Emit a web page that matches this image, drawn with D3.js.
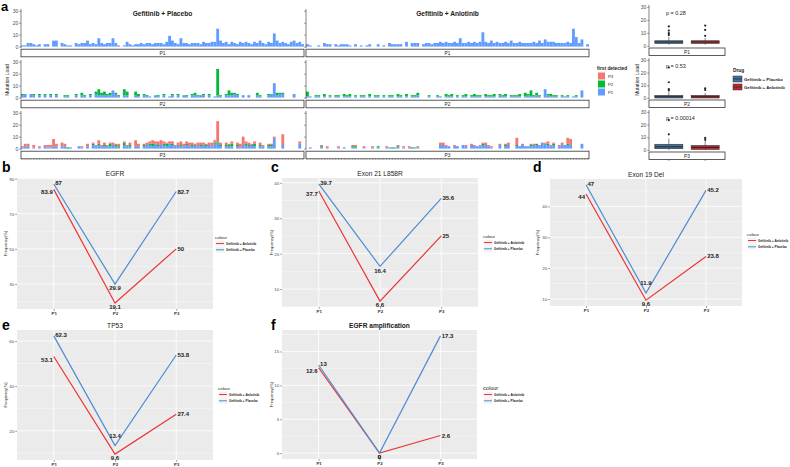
<!DOCTYPE html>
<html><head><meta charset="utf-8">
<script src="https://cdn.jsdelivr.net/npm/d3@7"></script>
<style>body{margin:0;background:#fff;}svg{display:block;font-family:"Liberation Sans",Arial,sans-serif;}</style>
</head><body><svg id="c" width="790" height="467"></svg>
<script>
// ---------------- DATA ----------------
// Panel a: mutation load per sample, split by the time point at which the mutation was first detected
const plP1_P1 = [1,1,3,3,2,1,2,0,2,2, 0,5,5,0,3,2,1,1,0,3, 2,3,3,5,2,3,2,7,3,2, 3,3,7,3,1,0,1,4,2,1, 2,2,3,2,3,3,2,3,3,3, 2,4,9,5,3,2,7,3,3,2, 3,3,3,2,4,3,3,4,4,15, 5,3,4,2,4,3,2,4,3,4, 3,2,4,3,5,3,2,4,3,11, 5,3,4,3,2,4,5,3,4,2];
const plP2_P1 = [2,3,0,3,2,0,2,0,2,0, 2,0,2,0,0,1,1,0,0,2, 0,2,1,0,2,0,3,2,2,2, 2,2,6,3,1,0,2,2,0,0, 2,1,0,2,1,1,0,2,1,0, 2,0,1,2,0,2,0,2,1,0, 2,2,1,2,2,0,2,0,1,2, 1,0,2,2,2,3,2,0,2,0, 2,0,0,2,1,0,0,2,3,12, 2,3,3,0,0,0,3,0,0,0];
const plP2_P2 = [1,0,0,0,1,0,1,0,1,0, 1,0,1,0,0,1,1,0,0,1, 0,2,1,0,1,0,2,5,2,3, 1,2,0,1,1,0,5,3,0,0, 3,2,0,1,1,0,0,0,1,0, 1,0,0,1,0,1,0,0,1,0, 1,2,1,0,1,0,1,0,0,22, 1,0,1,4,2,1,1,0,0,0, 0,0,0,2,1,0,0,1,0,0, 2,1,1,0,0,0,0,0,0,0];
const plP3_P1 = [1,2,2,0,1,0,1,0,2,1, 1,2,2,0,2,2,0,1,0,0, 2,1,0,2,0,3,2,3,2,2, 2,2,3,2,1,0,3,2,2,0, 2,2,0,2,3,3,2,4,2,3, 3,2,4,3,2,3,2,2,3,2, 2,3,2,2,3,2,3,2,4,5, 2,0,2,2,2,0,2,1,3,3, 2,3,2,0,2,2,0,2,2,8, 0,0,3,0,0,0,0,0,4,0];
const plP3_P2 = [0,0,0,0,0,0,0,0,0,0, 0,0,0,0,0,0,1,0,0,0, 0,0,0,0,0,1,0,1,0,1, 0,2,0,1,1,0,2,0,1,0, 0,0,0,1,0,1,2,0,1,0, 1,2,0,1,0,0,1,0,1,0, 1,0,0,1,0,1,0,0,1,1, 1,0,1,1,2,0,1,0,0,1, 1,0,2,0,1,0,0,1,1,0, 0,0,0,0,0,0,0,0,0,0];
const plP3_P3 = [1,2,2,0,2,0,1,0,1,2, 2,6,2,0,3,2,0,0,0,0, 0,1,0,2,0,1,1,3,1,2, 1,1,2,1,2,0,1,1,2,0, 5,2,0,1,2,2,3,2,3,4, 2,1,2,2,1,2,3,2,2,3, 2,1,3,2,2,1,2,3,2,17, 2,0,2,1,2,0,2,3,7,2, 2,1,2,0,2,1,0,1,1,2, 0,0,9,0,0,0,0,0,2,0];

const anP1_P1 = [2,1,0,0,1,0,3,2,2,0, 2,1,2,2,2,1,0,2,0,1, 0,1,2,0,0,2,0,1,0,3, 2,2,2,2,0,4,0,3,3,3, 0,2,3,3,2,3,3,4,3,4, 3,3,4,3,7,3,3,4,3,4, 3,4,12,4,3,5,3,4,3,3, 4,3,5,3,3,4,3,3,3,3, 4,3,5,3,6,4,4,4,3,3, 3,3,4,3,15,8,3,6,0,2];
const anP2_P1 = [1,1,0,1,1,0,1,0,1,0, 1,1,0,1,1,1,0,1,0,1, 1,0,1,0,1,1,0,1,0,1, 1,0,1,1,0,1,0,1,1,2, 0,0,0,1,0,0,1,1,0,1, 1,1,0,1,0,1,1,0,1,1, 1,1,0,1,1,1,1,0,2,1, 1,0,1,1,1,1,0,1,2,1, 1,2,1,0,7,2,1,1,1,0, 1,1,1,0,1,1,0,6,0,0];
const anP2_P2 = [4,0,0,1,1,0,2,0,1,0, 1,1,0,2,1,2,0,1,0,1, 1,0,2,0,1,1,0,1,0,1, 1,0,2,1,0,2,0,1,1,2, 0,0,0,1,0,0,1,0,0,2, 1,2,0,1,0,1,2,0,1,2, 1,1,0,2,1,1,2,0,1,1, 2,0,1,1,1,2,0,3,1,5, 1,2,1,0,0,1,2,1,1,0, 1,0,1,0,0,1,0,0,0,0];
const anP3_P1 = [0,1,0,0,0,1,0,1,0,0, 0,1,0,1,0,0,1,1,0,0, 1,0,0,1,0,1,0,0,1,1, 0,1,1,0,1,0,1,0,1,1, 0,0,0,0,0,0,0,3,3,2, 2,0,2,2,0,3,2,0,3,2, 2,2,3,3,2,1,0,0,3,0, 2,3,0,0,2,2,3,2,2,2, 3,3,2,5,4,3,2,3,0,2, 3,3,3,3,0,0,0,4,0,0];
const anP3_P2 = [0,0,0,0,0,1,0,0,0,0, 0,0,0,0,0,0,1,1,0,0, 0,0,0,0,0,1,0,0,0,0, 1,0,1,0,0,0,0,1,0,0, 0,0,0,0,0,0,0,0,0,0, 0,0,0,0,0,0,0,0,0,0, 0,0,1,0,0,0,0,0,0,0, 1,0,0,0,1,0,0,0,0,1, 0,1,0,0,0,1,0,1,0,0, 0,0,1,0,0,0,0,0,0,0];
const anP3_P3 = [0,0,0,0,0,1,0,1,0,0, 0,1,0,0,0,0,1,1,0,0, 1,0,0,1,0,0,0,0,1,0, 0,0,1,0,1,0,1,0,0,1, 0,0,0,0,0,0,0,2,2,1, 0,0,1,0,0,0,1,0,1,1, 0,1,1,2,1,1,0,0,1,0, 1,2,0,0,6,0,1,0,0,1, 1,0,1,0,1,2,1,1,0,1, 2,0,5,5,0,0,0,0,0,0];

const drugs = ["Gefitinib + Placebo", "Gefitinib + Anlotinib"];
const timepoints = ["P1", "P2", "P3"];
const barTicks = [0, 10, 20, 30];

// boxplot summaries, order: P1-placebo, P1-anlotinib, P2-placebo, P2-anlotinib, P3-placebo, P3-anlotinib
const boxLow = [1, 1, 0, 0, 0, 0];
const boxQ1 = [2, 2, 0, 0, 1, 0.5];
const boxMed = [3, 3, 1, 1, 2.5, 2];
const boxQ3 = [4, 4, 2, 2, 4.5, 3.5];
const boxHigh = [7, 6, 5, 4, 9, 7];
const boxOutliers = [[8.5, 9.8, 11.8, 15], [7.8, 12.3, 15.7], [6, 7, 12.4, 24], [6.3, 7.5], [12.3, 23.6], [8, 9.5]];
const pValues = ["p = 0.28", "p = 0.53", "p = 0.00014"];

// Panels b-f
const lineGenes = ["EGFR", "Exon 21 L858R", "Exon 19 Del", "TP53", "EGFR amplification"];
const anlotinibFreq = [[83.9, 19.1, 50], [37.7, 6.6, 25], [44, 9.6, 23.8], [53.1, 9.6, 27.4], [12.6, 0, 2.6]];
const placeboFreq = [[87, 29.9, 82.7], [39.7, 16.4, 35.6], [47, 11.9, 45.2], [62.3, 13.4, 53.8], [13, 0, 17.3]];
const freqTicks = [[30, 50, 70, 90], [10, 20, 30, 40], [10, 20, 30, 40], [20, 40, 60], [0, 5, 10, 15]];
const panelLetters = ["b", "c", "d", "e", "f"];
const lineSeriesNames = ["Gefitinib + Anlotinib", "Gefitinib + Placebo"];

// ---------------- STYLE / LAYOUT ----------------
const svg = d3.select("#c");
const detColors = {P1: "#619CFF", P2: "#00BA38", P3: "#F8766D"};
const boxColors = ["#44709C", "#BE2A2E"];
const lineColors = ["#EE3535", "#4C8DD3"];

function styleAxis(g, fs, col) {
  g.select(".domain").attr("stroke", "#333").attr("stroke-width", 0.6);
  g.selectAll(".tick line").attr("stroke", "#333").attr("stroke-width", 0.5);
  g.selectAll(".tick text").attr("font-size", fs).attr("fill", col || "#4D4D4D").attr("font-family", "Liberation Sans, Arial, sans-serif");
}

// ---------------- PANEL a : stacked bars ----------------
svg.append("text").attr("x", 1).attr("y", 11).attr("font-size", 13).attr("font-weight", "bold").text("a");

const barGroups = [
  {x0: 21, x1: 304, series: [[plP1_P1], [plP2_P1, plP2_P2], [plP3_P1, plP3_P2, plP3_P3]], labels: true},
  {x0: 306, x1: 589, series: [[anP1_P1], [anP2_P1, anP2_P2], [anP3_P1, anP3_P2, anP3_P3]], labels: false}
];
const barRows = [{top: 9, bottom: 48}, {top: 60, bottom: 99}, {top: 111, bottom: 150}];

barGroups.forEach((G, gi) => {
  const n = G.series[0][0].length;
  const x = d3.scaleBand().domain(d3.range(n)).range([G.x0, G.x1]).padding(0);
  svg.append("text").attr("x", (G.x0 + G.x1) / 2).attr("y", 16).attr("text-anchor", "middle")
    .attr("font-size", 6.6).attr("font-weight", "bold").attr("fill", "#1a1a1a").text(drugs[gi]);
  barRows.forEach((R, ri) => {
    const y = d3.scaleLinear().domain([-1.2, 31.5]).range([R.bottom, R.top]);
    const keys = timepoints.slice(0, ri + 1);
    const rowsData = d3.range(n).map(i => {
      const o = {i};
      keys.forEach((k, ki) => o[k] = G.series[ri][ki][i]);
      return o;
    });
    const stacked = d3.stack().keys(keys)(rowsData);
    const g = svg.append("g");
    stacked.forEach(layer => {
      g.selectAll(null).data(layer.filter(d => d[1] > d[0])).enter().append("rect")
        .attr("x", d => x(d.data.i)).attr("width", x.bandwidth())
        .attr("y", d => y(d[1])).attr("height", d => y(d[0]) - y(d[1]))
        .attr("fill", detColors[layer.key]);
    });
    const ax = svg.append("g").attr("transform", `translate(${G.x0},0)`)
      .call(d3.axisLeft(y).tickValues(barTicks).tickSize(1.8).tickPadding(1).tickFormat(G.labels ? d3.format("d") : () => ""));
    ax.select(".domain").attr("d", `M0,${R.bottom}V${R.top}`);
    styleAxis(ax, 5, "#4D4D4D");
    // strip
    svg.append("rect").attr("x", G.x0).attr("y", R.bottom + 1.2).attr("width", G.x1 - G.x0).attr("height", 7.6)
      .attr("fill", "#fff").attr("stroke", "#333").attr("stroke-width", 0.8);
    svg.append("text").attr("x", (G.x0 + G.x1) / 2).attr("y", R.bottom + 6.8).attr("text-anchor", "middle")
      .attr("font-size", 4.8).attr("fill", "#1a1a1a").text(timepoints[ri]);
  });
  // sample ticks under bottom strip
  const bx = svg.append("g").attr("transform", `translate(0,${barRows[2].bottom + 8.8})`)
    .call(d3.axisBottom(x).tickSize(1.2).tickFormat(() => ""));
  bx.select(".domain").remove();
  bx.selectAll(".tick line").attr("stroke", "#555").attr("stroke-width", 0.4);
});
svg.append("text").attr("transform", "translate(9,80) rotate(-90)").attr("text-anchor", "middle")
  .attr("font-size", 5).attr("fill", "#1a1a1a").text("Mutation Load");

// legend: first detected
svg.append("text").attr("x", 597).attr("y", 70).attr("font-size", 4.8).attr("font-weight", "bold").attr("fill", "#1a1a1a").text("first detected");
["P3", "P2", "P1"].forEach((k, i) => {
  svg.append("rect").attr("x", 598).attr("y", 72.5 + i * 8).attr("width", 7).attr("height", 7).attr("fill", detColors[k]);
  svg.append("text").attr("x", 608).attr("y", 77.8 + i * 8).attr("font-size", 4.3).attr("fill", "#1a1a1a").text(k);
});

// ---------------- PANEL a : boxplots ----------------
const boxRows = [{top: 5, bottom: 47}, {top: 58, bottom: 99}, {top: 110, bottom: 151}];
const bxScale = d3.scaleBand().domain(drugs).range([649, 725]).paddingInner(0.23).paddingOuter(0.16);
boxRows.forEach((R, ri) => {
  const y = d3.scaleLinear().domain([-0.8, 31.5]).range([R.bottom, R.top]);
  const g = svg.append("g");
  drugs.forEach((dname, di) => {
    const k = ri * 2 + di;
    const cx = bxScale(dname) + bxScale.bandwidth() / 2;
    const bw = bxScale.bandwidth();
    g.append("line").attr("x1", cx).attr("x2", cx).attr("y1", y(boxLow[k])).attr("y2", y(boxHigh[k])).attr("stroke", "#333").attr("stroke-width", 0.6);
    g.append("rect").attr("x", bxScale(dname)).attr("width", bw).attr("y", y(boxQ3[k])).attr("height", y(boxQ1[k]) - y(boxQ3[k]))
      .attr("fill", boxColors[di]).attr("stroke", "#333").attr("stroke-width", 0.6);
    g.append("line").attr("x1", bxScale(dname)).attr("x2", bxScale(dname) + bw).attr("y1", y(boxMed[k])).attr("y2", y(boxMed[k])).attr("stroke", "#222").attr("stroke-width", 0.9);
    g.selectAll(null).data(boxOutliers[k]).enter().append("circle").attr("cx", cx).attr("cy", v => y(v)).attr("r", 1.1).attr("fill", "#222");
  });
  const ax = svg.append("g").attr("transform", "translate(649,0)")
    .call(d3.axisLeft(y).tickValues(barTicks).tickSize(1.8).tickPadding(1));
  ax.select(".domain").attr("d", `M0,${R.bottom}V${R.top}`);
  styleAxis(ax, 5, "#4D4D4D");
  svg.append("rect").attr("x", 649).attr("y", R.bottom + 1).attr("width", 76).attr("height", 7.5)
    .attr("fill", "#fff").attr("stroke", "#333").attr("stroke-width", 0.8);
  svg.append("text").attr("x", 687).attr("y", R.bottom + 6.6).attr("text-anchor", "middle").attr("font-size", 4.8).attr("fill", "#1a1a1a").text(timepoints[ri]);
  svg.append("text").attr("x", 666).attr("y", R.top + 10).attr("font-size", 5.4).attr("fill", "#1a1a1a").text(pValues[ri]);
  if (ri === 2) {
    const bb = svg.append("g").attr("transform", `translate(0,${R.bottom + 8.5})`).call(d3.axisBottom(bxScale).tickSize(1.5).tickFormat(() => ""));
    bb.select(".domain").remove();
    bb.selectAll(".tick line").attr("stroke", "#333").attr("stroke-width", 0.5);
  }
});
svg.append("text").attr("transform", "translate(639,80) rotate(-90)").attr("text-anchor", "middle")
  .attr("font-size", 5).attr("fill", "#1a1a1a").text("Mutation Load");
svg.append("text").attr("x", 733).attr("y", 72).attr("font-size", 4.8).attr("font-weight", "bold").attr("fill", "#1a1a1a").text("Drug");
drugs.forEach((d, i) => {
  const yy = 76 + i * 8;
  svg.append("rect").attr("x", 733).attr("y", yy).attr("width", 9).attr("height", 6).attr("fill", boxColors[i]).attr("stroke", "#333").attr("stroke-width", 0.5);
  svg.append("line").attr("x1", 733).attr("x2", 742).attr("y1", yy + 3).attr("y2", yy + 3).attr("stroke", "#222").attr("stroke-width", 0.6);
  svg.append("text").attr("x", 744).attr("y", yy + 4.6).attr("font-size", 4.3).attr("font-weight", "bold").attr("fill", "#1a1a1a").text(d);
});

// ---------------- PANELS b-f : line charts ----------------
const lineLayout = [
  {x0: 17, x1: 213, y0: 178, y1: 309, lx: 2, ly: 172, ylab: 7, legX: 215, legY: 239, titleW: "normal", legFs: 4.4},
  {x0: 282, x1: 478, y0: 178, y1: 307, lx: 271, ly: 172, ylab: 273, legX: 483, legY: 238, titleW: "normal", legFs: 4.4},
  {x0: 550, x1: 742, y0: 179, y1: 306, lx: 533, ly: 172, ylab: 539, legX: 747, legY: 236, titleW: "normal", legFs: 4.4},
  {x0: 17, x1: 213, y0: 330, y1: 460, lx: 2, ly: 330, ylab: 7, legX: 218, legY: 390, titleW: "normal", legFs: 4.4},
  {x0: 282, x1: 477, y0: 330, y1: 459, lx: 271, ly: 330, ylab: 273, legX: 483, legY: 390, titleW: "bold", legFs: 5.6}
];

lineLayout.forEach((L, i) => {
  const g = svg.append("g");
  const x = d3.scalePoint().domain(timepoints).range([L.x0, L.x1]).padding(0.6);
  const all = anlotinibFreq[i].concat(placeboFreq[i]);
  const ext = d3.extent(all);
  const pad = (ext[1] - ext[0]) * 0.05;
  const dom = [ext[0] - pad, ext[1] + pad];
  const y = d3.scaleLinear().domain(dom).range([L.y1, L.y0]);
  g.append("rect").attr("x", L.x0).attr("y", L.y0).attr("width", L.x1 - L.x0).attr("height", L.y1 - L.y0).attr("fill", "#EBEBEB");
  const t = freqTicks[i];
  const step = t[1] - t[0];
  const minors = [];
  for (let k = -1; k < t.length; k++) {
    const v = t[0] + step * (k + 0.5);
    if (v >= dom[0] && v <= dom[1]) minors.push(v);
  }
  g.selectAll(null).data(minors).enter().append("line").attr("x1", L.x0).attr("x2", L.x1)
    .attr("y1", d => y(d)).attr("y2", d => y(d)).attr("stroke", "#fff").attr("stroke-width", 0.4);
  g.selectAll(null).data(t).enter().append("line").attr("x1", L.x0).attr("x2", L.x1)
    .attr("y1", d => y(d)).attr("y2", d => y(d)).attr("stroke", "#fff").attr("stroke-width", 0.8);
  g.selectAll(null).data(timepoints).enter().append("line").attr("y1", L.y0).attr("y2", L.y1)
    .attr("x1", d => x(d)).attr("x2", d => x(d)).attr("stroke", "#fff").attr("stroke-width", 0.8);

  const ay = svg.append("g").attr("transform", `translate(${L.x0},0)`).call(d3.axisLeft(y).tickValues(t).tickSize(1.8).tickPadding(1));
  ay.select(".domain").remove();
  styleAxis(ay, 4.4, "#4D4D4D");
  const ax = svg.append("g").attr("transform", `translate(0,${L.y1})`).call(d3.axisBottom(x).tickSize(1.8).tickPadding(1));
  ax.select(".domain").remove();
  styleAxis(ax, 4.4, "#333");
  ax.selectAll(".tick text").attr("font-weight", "bold");

  const series = [anlotinibFreq[i], placeboFreq[i]];
  const line = d3.line().x((d, j) => x(timepoints[j])).y(d => y(d));
  series.forEach((s, si) => {
    g.append("path").attr("d", line(s)).attr("fill", "none").attr("stroke", lineColors[si]).attr("stroke-width", 1.2);
  });
  // value labels
  series.forEach((s, si) => {
    const other = series[1 - si];
    s.forEach((v, j) => {
      const px = x(timepoints[j]), py = y(v), oy = y(other[j]);
      const higher = v > other[j] || (v === other[j] && si === 1);
      let anchor = "start", dx = 1.5, dy = 0;
      if (j === 0) {
        if (higher) { anchor = "start"; dx = 1.5; dy = -1; } else { anchor = "end"; dx = -1; dy = 3; }
      } else if (j === 1) {
        const gap = Math.abs(py - oy);
        anchor = "middle"; dx = 0;
        if (higher && gap > 0 && gap < 12) dy = -10; else dy = 4;
      } else {
        anchor = "start"; dx = 1.2; dy = 0;
      }
      svg.append("text").attr("x", px + dx).attr("y", py + dy).attr("dy", "0.35em").attr("text-anchor", anchor)
        .attr("font-size", 6).attr("font-weight", "bold").attr("fill", "#222").text(v);
    });
  });
  svg.append("text").attr("x", (L.x0 + L.x1) / 2).attr("y", L.y0 - 2.5).attr("text-anchor", "middle")
    .attr("font-size", 6.6).attr("font-weight", L.titleW).attr("fill", "#1a1a1a").text(lineGenes[i]);
  svg.append("text").attr("x", L.lx).attr("y", L.ly).attr("font-size", 14).attr("font-weight", "bold").attr("fill", "#000").text(panelLetters[i]);
  svg.append("text").attr("transform", `translate(${L.ylab},${(L.y0 + L.y1) / 2}) rotate(-90)`).attr("text-anchor", "middle")
    .attr("font-size", 4).attr("fill", "#1a1a1a").text("Frequency(%)");
  // legend
  svg.append("text").attr("x", L.legX).attr("y", L.legY).attr("font-size", L.legFs).attr("fill", "#1a1a1a").text("colour");
  lineSeriesNames.forEach((nm, si) => {
    const yy = L.legY + 4.5 + si * 6.3;
    svg.append("rect").attr("x", L.legX + 0.5).attr("y", yy - 2.8).attr("width", 9).attr("height", 5.6).attr("fill", "#F2F2F2");
    svg.append("line").attr("x1", L.legX + 1).attr("x2", L.legX + 9).attr("y1", yy).attr("y2", yy).attr("stroke", lineColors[si]).attr("stroke-width", 1);
    svg.append("text").attr("x", L.legX + 11).attr("y", yy + 1.1).attr("font-size", 3.2).attr("font-weight", "bold").attr("fill", "#1a1a1a").text(nm);
  });
});
</script></body></html>
